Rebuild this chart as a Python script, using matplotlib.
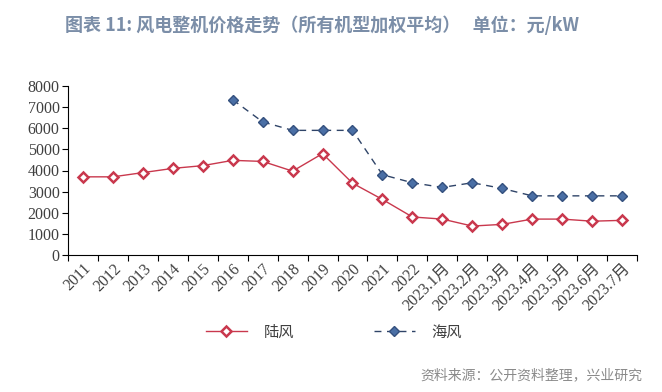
import matplotlib
matplotlib.use("Agg")
import matplotlib.pyplot as plt
import numpy as np

categories = ["2011", "2012", "2013", "2014", "2015", "2016", "2017", "2018", "2019", "2020",
              "2021", "2022", "2023.1月", "2023.2月", "2023.3月", "2023.4月", "2023.5月", "2023.6月", "2023.7月"]
onshore = [3700, 3700, 3900, 4100, 4230, 4480, 4430, 3970, 4800, 3400,
           2630, 1800, 1700, 1370, 1450, 1700, 1700, 1600, 1640]
offshore = [np.nan, np.nan, np.nan, np.nan, np.nan, 7350, 6300, 5900, 5900, 5900,
            3800, 3420, 3200, 3420, 3150, 2800, 2800, 2800, 2800]
yticks = [0, 1000, 2000, 3000, 4000, 5000, 6000, 7000, 8000]

cjk = ['Noto Sans CJK SC', 'DejaVu Sans']
serif_cjk = ['Liberation Serif', 'Noto Sans CJK SC']

fig = plt.figure(figsize=(6.62, 3.92), dpi=100)
ax = fig.add_axes([68/662, 1-255/392, (637-68)/662, (255-86)/392])

x = np.arange(len(categories))
ax.plot(x, onshore, color="#c9384d", lw=1.0, marker="D", markersize=5.5,
        markerfacecolor="white", markeredgecolor="#c9384d", markeredgewidth=1.8, label="陆风", zorder=3)
ax.plot(x, offshore, color="#2f4468", lw=1.0, ls=(0, (5, 4)), marker="D", markersize=5.5,
        markerfacecolor="#4a6fa5", markeredgecolor="#34507e", markeredgewidth=1.0, label="海风", zorder=3)

ax.set_xlim(-0.5, len(categories) - 0.5)
ax.set_ylim(0, 8000)
ax.set_yticks(yticks)
ax.set_yticklabels([str(v) for v in yticks], fontfamily='Liberation Serif', fontsize=11.5, color="#404040")
ax.set_xticks(np.arange(-0.5, len(categories), 1.0), minor=False)
ax.set_xticklabels([])
ax.set_xticks(x, minor=True)
ax.set_xticklabels(categories, minor=True, rotation=45, ha="right", va="top",
                   rotation_mode="anchor", fontsize=11.5, color="#404040", family=serif_cjk)
ax.tick_params(axis="x", which="minor", length=0, pad=4)
ax.tick_params(axis="x", which="major", length=4, direction="out", color="black")
ax.tick_params(axis="y", length=4, direction="out", color="black", pad=2)

for s in ["top", "right"]:
    ax.spines[s].set_visible(False)
ax.spines["left"].set_color("black")
ax.spines["bottom"].set_color("black")

fig.text(322/662, 1 - 25/392, "图表 11: 风电整机价格走势（所有机型加权平均）   单位：元/kW", ha="center", va="center",
         fontsize=13, fontweight="bold", color="#7b8ea8", family=cjk)

leg = fig.legend(loc="center", bbox_to_anchor=(334/662, 1 - 332/392), ncol=2, frameon=False,
                 prop={'family': cjk, 'size': 11}, handlelength=2.7, handletextpad=1.1,
                 columnspacing=5.2, labelcolor="#404040")

fig.text(642/662, 1 - 375/392, "资料来源：公开资料整理，兴业研究", ha="right", va="center",
         fontsize=10, color="#8a8a8a", family=cjk)

fig.savefig("out.png", dpi=100)
